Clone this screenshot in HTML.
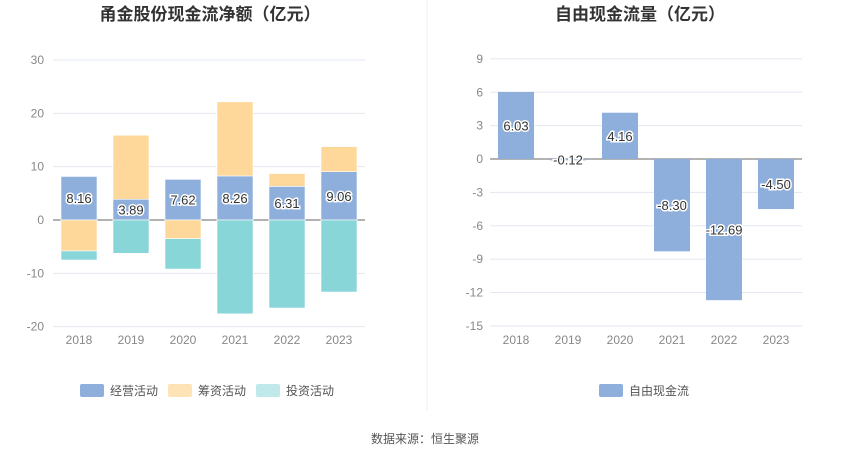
<!DOCTYPE html>
<html><head><meta charset="utf-8"><style>
body{margin:0;background:#fff;font-family:"Liberation Sans","Noto Sans CJK SC",sans-serif}
svg text{font-family:"Liberation Sans","Noto Sans CJK SC",sans-serif}
</style></head><body>
<svg id="c" width="850" height="459" viewBox="0 0 850 459">
<text x="210" y="20" text-anchor="middle" font-size="17" font-weight="bold" fill="#333">甬金股份现金流净额（亿元）</text>
<text x="640" y="20" text-anchor="middle" font-size="17" font-weight="bold" fill="#333">自由现金流量（亿元）</text>
<line x1="427" y1="0" x2="427" y2="410" stroke="#eee"/>
<text x="425" y="443" text-anchor="middle" font-size="12" fill="#555">数据来源：恒生聚源</text>
<g id="L"></g><g id="R"></g>
<g>
<rect x="80" y="384" width="24" height="13" rx="2" fill="#8eaedb"/>
<text x="110" y="395" font-size="12" fill="#555">经营活动</text>
<rect x="168" y="384" width="24" height="13" rx="2" fill="#fde3b6"/>
<text x="198" y="395" font-size="12" fill="#555">筹资活动</text>
<rect x="256" y="384" width="24" height="13" rx="2" fill="#bfe9ea"/>
<text x="286" y="395" font-size="12" fill="#555">投资活动</text>
</g>
<g>
<rect x="599" y="384" width="24" height="13" rx="2" fill="#8eaedb"/>
<text x="629" y="395" font-size="12" fill="#555">自由现金流</text>
</g>
</svg>
<script>
const years=["2018","2019","2020","2021","2022","2023"];
const operating=[8.16,3.89,7.62,8.26,6.31,9.06];
const financing=[-5.8,12.0,-3.5,13.9,2.4,4.7];
const investing=[-1.7,-6.25,-5.7,-17.6,-16.5,-13.5];
const leftTicks=[30,20,10,0,-10,-20];
const fcf=[6.03,-0.12,4.16,-8.30,-12.69,-4.50];
const rightTicks=[9,6,3,0,-3,-6,-9,-12,-15];
const NS="http://www.w3.org/2000/svg";
function mk(p,t,a){const e=document.createElementNS(NS,t);for(const k in a)e.setAttribute(k,a[k]);p.appendChild(e);return e;}
// left
const L=document.getElementById('L');
const ly=v=>220-(v)*(266.7/50);
const lx=i=>53+52*i+26;
leftTicks.forEach(t=>{
 const g=mk(L,'line',{x1:53,x2:365,y1:ly(t),y2:ly(t),stroke:t===0?'#666':'#e3e8f0'});
 
 
 const tx=mk(L,'text',{x:44,y:ly(t)+4,'text-anchor':'end','font-size':12,fill:'#888'});tx.textContent=t;
 
 
});
years.forEach((y,i)=>{
 let pos=0,neg=0;
 const segs=[[operating[i],'#8eaedb','bar-operating'],[financing[i],'#fed89a','bar-financing'],[investing[i],'#88d6d8','bar-investing']];
 segs.forEach(([v,c,n])=>{
  let a,b;
  if(v>=0){a=pos;b=pos+v;pos=b;}else{a=neg;b=neg+v;neg=b;}
  const r=mk(L,'rect',{x:lx(i)-18,width:36,y:ly(Math.max(a,b)),height:Math.abs(ly(a)-ly(b)),fill:c,stroke:'#fff','stroke-width':0.6});
  
  
 });
 const t=mk(L,'text',{x:lx(i),y:ly(operating[i]/2)+5,'text-anchor':'middle','font-size':13,fill:'#333',stroke:'#fff','stroke-width':3,'paint-order':'stroke'});
 t.textContent=operating[i].toFixed(2);
 
 
 const xt=mk(L,'text',{x:lx(i),y:344,'text-anchor':'middle','font-size':12,fill:'#888'});xt.textContent=y;
 
 
});
// right
const R=document.getElementById('R');
const ry=v=>159-v*(267/24);
const rx=i=>490+52*i+26;
rightTicks.forEach(t=>{
 const g=mk(R,'line',{x1:490,x2:802,y1:ry(t),y2:ry(t),stroke:t===0?'#666':'#e3e8f0'});
 
 
 const tx=mk(R,'text',{x:483,y:ry(t)+4,'text-anchor':'end','font-size':12,fill:'#888'});tx.textContent=t;
 
 
});
years.forEach((y,i)=>{
 const v=fcf[i];
 const r=mk(R,'rect',{x:rx(i)-18,width:36,y:ry(Math.max(0,v)),height:Math.abs(ry(v)-ry(0)),fill:'#8eaedb'});
 
 
 const t=mk(R,'text',{x:rx(i),y:ry(v/2)+5,'text-anchor':'middle','font-size':13,fill:'#333',stroke:'#fff','stroke-width':3,'paint-order':'stroke'});
 t.textContent=v.toFixed(2);
 
 
 const xt=mk(R,'text',{x:rx(i),y:344,'text-anchor':'middle','font-size':12,fill:'#888'});xt.textContent=y;
 
 
});
</script>
</body></html>
